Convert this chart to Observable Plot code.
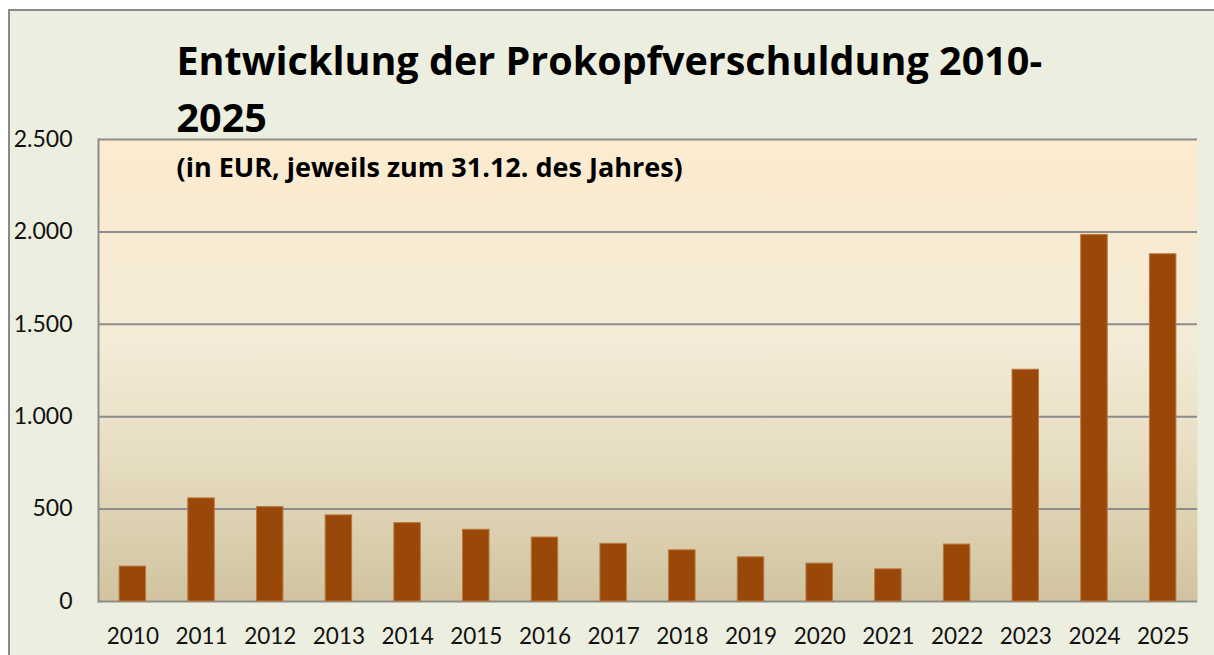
<!DOCTYPE html>
<html>
<head>
<meta charset="utf-8">
<script src="https://cdn.jsdelivr.net/npm/d3@7"></script>
<script src="https://cdn.jsdelivr.net/npm/@observablehq/plot@0.6"></script>
<style>
  html, body { margin: 0; padding: 0; background: #ffffff; }
  #wrap { position: relative; width: 1214px; height: 655px; overflow: hidden; background: #ffffff; }
  #panel { position: absolute; left: 8px; top: 9px; width: 1300px; height: 700px;
           background: #ECEEDF; border-left: 2px solid #8a8a8a; border-top: 2px solid #8a8a8a; }
  #chart { position: absolute; left: 0; top: 0; }
</style>
</head>
<body>
<div id="wrap"><div id="panel"></div><div id="chart"></div></div>
<script>
const years = ["2010","2011","2012","2013","2014","2015","2016","2017","2018","2019","2020","2021","2022","2023","2024","2025"];
const debtPerCapita = [189, 558, 511, 466, 424, 388, 346, 312, 277, 239, 205, 174, 308, 1254, 1984, 1879];
const yTicks = [0, 500, 1000, 1500, 2000, 2500];
const titleLine1 = "Entwicklung der Prokopfverschuldung 2010-";
const titleLine2 = "2025";
const subtitleText = "(in EUR, jeweils zum 31.12. des Jahres)";

const data = years.map((y, i) => ({year: y, value: debtPerCapita[i]}));
const de = d3.formatLocale({decimal: ",", thousands: ".", grouping: [3], currency: ["", " €"]});
const fmt = de.format(",.0f");

const titleFont = "'Open Sans', Lato, sans-serif";

const plot = Plot.plot({
  width: 1214,
  height: 655,
  marginLeft: 98,
  marginRight: 17,
  marginTop: 139,
  marginBottom: 54,
  style: {fontFamily: "Lato, 'Open Sans', sans-serif", background: "transparent", overflow: "visible", color: "#000"},
  x: {domain: years, paddingInner: 0.6, paddingOuter: 0.3, round: false, label: null},
  y: {domain: [0, 2500], label: null},
  marks: [
    Plot.frame({fill: "url(#bgGrad)", stroke: "none"}),
    Plot.ruleY(yTicks, {stroke: "#8c8c8c", strokeWidth: 2}),
    Plot.frame({anchor: "left", stroke: "#8c8c8c", strokeWidth: 2}),
    Plot.barY(data, {x: "year", y: "value", fill: "#99480A", stroke: "#B9783E", strokeWidth: 1, insetLeft: 0.5, insetRight: 0.5}),
    Plot.axisX({tickSize: 0, tickPadding: 27, fontSize: 22.5, fill: "#111"}),
    Plot.axisY({ticks: yTicks, tickSize: 0, tickPadding: 26, fontSize: 23, tickFormat: fmt, fill: "#111"}),
    Plot.text([titleLine1], {text: d => d, frameAnchor: "top-left", lineAnchor: "top", dx: 78, dy: -92.8, textAnchor: "start",
      fontSize: 39.5, fontWeight: "bold", fontFamily: titleFont, fill: "#000"}),
    Plot.text([titleLine2], {text: d => d, frameAnchor: "top-left", lineAnchor: "top", dx: 78, dy: -35.1, textAnchor: "start",
      fontSize: 39.5, fontWeight: "bold", fontFamily: titleFont, fill: "#000"}),
    Plot.text([subtitleText], {text: d => d, frameAnchor: "top-left", lineAnchor: "top", dx: 78, dy: 18.1, textAnchor: "start",
      fontSize: 27, fontWeight: "bold", fontFamily: titleFont, fill: "#000"})
  ]
});

const defs = d3.select(plot).insert("defs", ":first-child");
const grad = defs.append("linearGradient").attr("id", "bgGrad").attr("x1", 0).attr("y1", 0).attr("x2", 0).attr("y2", 1);
[[0, "#FCEBCF"], [0.45, "#F3EBD7"], [0.7, "#E6DCC0"], [1, "#D1C39F"]].forEach(([o, c]) =>
  grad.append("stop").attr("offset", o).attr("stop-color", c));

document.getElementById("chart").appendChild(plot);
</script>
</body>
</html>
